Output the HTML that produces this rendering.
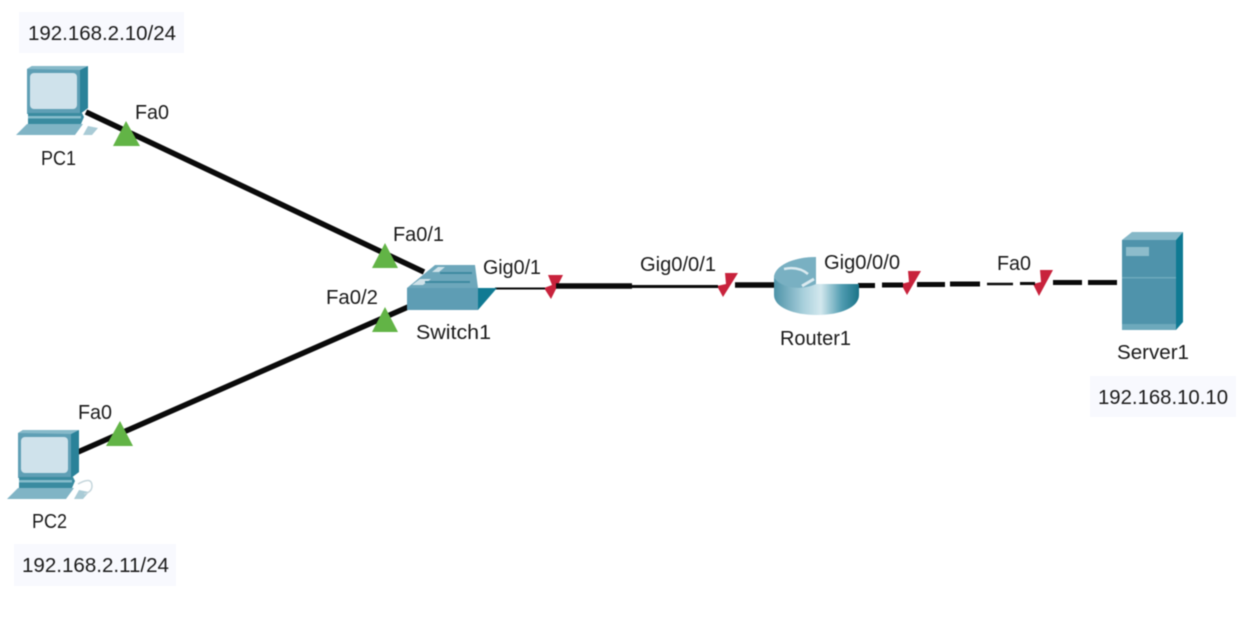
<!DOCTYPE html>
<html>
<head>
<meta charset="utf-8">
<style>
html,body{margin:0;padding:0;background:#fff;width:1240px;height:620px;overflow:hidden}
svg{display:block;filter:blur(.55px)}
text{font-family:"Liberation Sans",sans-serif;font-size:20px;fill:#1a1a1a}
</style>
</head>
<body>
<svg width="1240" height="620" viewBox="0 0 1240 620" xmlns="http://www.w3.org/2000/svg">
<defs>
<linearGradient id="rt" x1="0" x2="1" y1="0" y2="0">
<stop offset="0" stop-color="#4d93a8"/><stop offset=".35" stop-color="#a9d0dc"/><stop offset=".55" stop-color="#d3e8ee"/><stop offset=".8" stop-color="#4f9bb0"/><stop offset="1" stop-color="#1a7388"/>
</linearGradient>
<g id="pc">
<path d="M27 69 L32 66 L88 66 L88 108 L80 114 L27 114Z" fill="#5f9fb5"/>
<path d="M80 70 L88 66 L88 108 L80 114Z" fill="#2a8299"/>
<path d="M27 69 L32 66 L88 66 L80 70Z" fill="#86b9c9"/>
<rect x="30" y="73" width="47" height="36" rx="4" fill="#cfe2eb"/>
<path d="M28 113 H82 L84 117 L81 124 H28Z" fill="#3a8ba0"/>
<rect x="28" y="116" width="53" height="2.500" fill="#86bccb"/>
<path d="M27 124 H83 L75 135 H16Z" fill="#80b4c5"/>
<path d="M88 126 L98 128 L92 135 H83Z" fill="#a9cbd6"/>
</g>
</defs>

<rect x="19" y="12" width="165" height="41" fill="#f8f9fe"/>
<rect x="14" y="544" width="162" height="42" fill="#f8f9fe"/>
<rect x="1090" y="376" width="146" height="41" fill="#f8f9fe"/>

<!-- red link lights -->
<g fill="#c8223c">
<path d="M548 275 H563 L551 299 L544 288 L552 285Z"/>
<path d="M725 273 H738 L723 297 L717 286 L726 284Z"/>
<path d="M908 271 H921 L907 295 L901 284 L909 282Z"/>
<path d="M1040 270 H1053 L1039 296 L1033 284 L1041 282Z"/>
</g>

<!-- links -->
<g stroke="#0a0a0a" fill="none">
<line x1="86" y1="112" x2="424" y2="272" stroke-width="5.5"/>
<line x1="78" y1="452" x2="408" y2="307" stroke-width="5.5"/>
<line x1="495" y1="288.500" x2="545" y2="288.500" stroke-width="2"/>
<line x1="556" y1="286" x2="632" y2="286" stroke-width="5.5"/>
<line x1="632" y1="286.500" x2="718" y2="286.500" stroke-width="3"/>
<line x1="735" y1="285" x2="778" y2="285" stroke-width="5.5"/>
<line x1="858" y1="285.500" x2="875" y2="285.500" stroke-width="5"/>
<line x1="882" y1="285" x2="903" y2="285" stroke-width="5"/>
<line x1="917" y1="284.500" x2="945" y2="284.500" stroke-width="5"/>
<line x1="950" y1="284" x2="980" y2="284" stroke-width="5"/>
<line x1="987" y1="284" x2="1013" y2="284" stroke-width="2.500"/>
<line x1="1020" y1="283.500" x2="1035" y2="283.500" stroke-width="3"/>
<line x1="1053" y1="282.500" x2="1082" y2="282.500" stroke-width="5"/>
<line x1="1088" y1="282.500" x2="1117" y2="282.500" stroke-width="5"/>
</g>

<use href="#pc"/>
<use href="#pc" x="-9" y="364"/>
<path d="M78 484 Q92 476 92 486 Q92 492 84 494" fill="none" stroke="#c5d6dc" stroke-width="1.500"/>

<!-- switch -->
<path d="M407 288 L435 265 H475 L478 288Z" fill="#6da7bb"/>
<path d="M412 285 L420 279 H431 L423 285Z M432 272 L438 267 H445 L439 272Z" fill="#cfe2e9"/>
<path d="M425 282 H470 M440 273 H472" stroke="#3f8aa1" stroke-width="2"/>
<rect x="407" y="288" width="71" height="22" fill="#5e9db4"/>
<path d="M478 288 H497 L478 310Z" fill="#107a93"/>

<!-- router -->
<path d="M774 278 V295 C774 307 793 315 817 315 C841 315 859 307 859 295 V284 H816 V257 C793 257 774 266 774 278Z" fill="url(#rt)"/>
<path d="M774 278 C774 266 793 257 816 257 V284 C800 291 782 288 774 278Z" fill="#79b0c2"/>
<path d="M784 269 Q798 266 808 274" fill="none" stroke="#dbeaf0" stroke-width="2.500"/>
<path d="M802 286 L814 279" stroke="#dbeaf0" stroke-width="3"/>

<!-- server -->
<path d="M1122 240 L1132 232 H1183 L1176 240Z" fill="#86b8c8"/>
<path d="M1176 240 L1183 232 V322 L1176 330Z" fill="#0f7a93"/>
<rect x="1122" y="240" width="54" height="90" fill="#4f93ab"/>
<rect x="1126" y="247" width="23" height="9" fill="#8dbccb"/>
<rect x="1122" y="277" width="54" height="1.500" fill="#6da9bc"/>
<rect x="1122" y="324" width="54" height="6" fill="#6da9bc"/>

<!-- green link lights -->
<g fill="#62b446">
<path d="M126 121 L140 146 H113Z"/>
<path d="M385 243 L398 268 H372Z"/>
<path d="M385 307 L398 332 H372Z"/>
<path d="M120 421 L133 446 H106Z"/>
</g>

<!-- labels -->
<g lengthAdjust="spacingAndGlyphs">
<text x="28" y="40" textLength="148" lengthAdjust="spacingAndGlyphs">192.168.2.10/24</text>
<text x="22" y="572" textLength="147" lengthAdjust="spacingAndGlyphs">192.168.2.11/24</text>
<text x="1098" y="404" textLength="130" lengthAdjust="spacingAndGlyphs">192.168.10.10</text>
<text x="135" y="119" textLength="34" lengthAdjust="spacingAndGlyphs">Fa0</text>
<text x="41" y="165" textLength="35" lengthAdjust="spacingAndGlyphs">PC1</text>
<text x="393" y="241" textLength="51" lengthAdjust="spacingAndGlyphs">Fa0/1</text>
<text x="326" y="304" textLength="52" lengthAdjust="spacingAndGlyphs">Fa0/2</text>
<text x="483" y="274" textLength="58" lengthAdjust="spacingAndGlyphs">Gig0/1</text>
<text x="416" y="339" textLength="75" lengthAdjust="spacingAndGlyphs">Switch1</text>
<text x="640" y="271" textLength="76" lengthAdjust="spacingAndGlyphs">Gig0/0/1</text>
<text x="824" y="269" textLength="76" lengthAdjust="spacingAndGlyphs">Gig0/0/0</text>
<text x="780" y="345" textLength="71" lengthAdjust="spacingAndGlyphs">Router1</text>
<text x="997" y="270" textLength="34" lengthAdjust="spacingAndGlyphs">Fa0</text>
<text x="1117" y="359" textLength="72" lengthAdjust="spacingAndGlyphs">Server1</text>
<text x="78" y="419" textLength="34" lengthAdjust="spacingAndGlyphs">Fa0</text>
<text x="32" y="528" textLength="35" lengthAdjust="spacingAndGlyphs">PC2</text>
</g>
</svg>
</body>
</html>
